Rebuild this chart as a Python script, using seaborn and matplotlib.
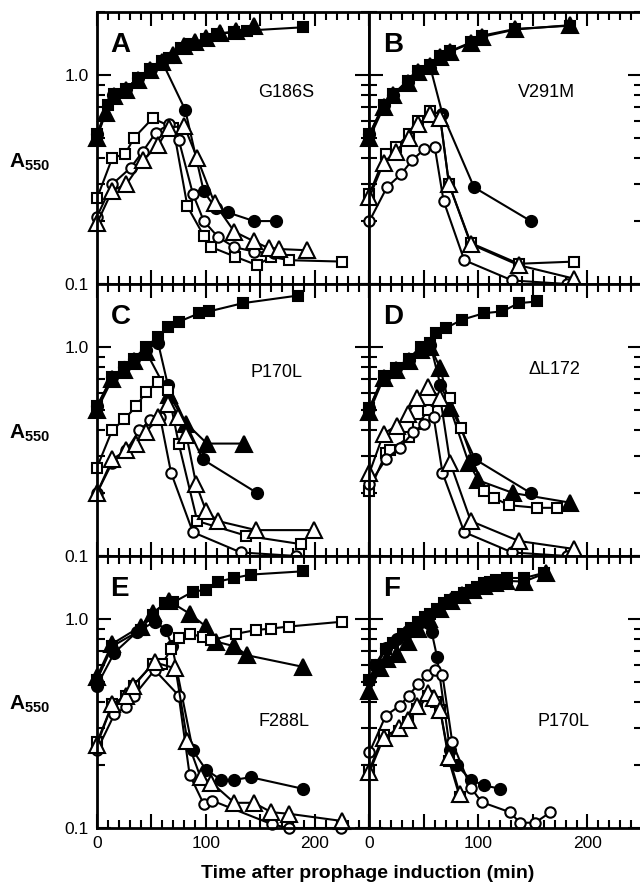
import matplotlib
matplotlib.use('Agg')
import matplotlib.pyplot as plt
import seaborn as sns
from matplotlib.ticker import MultipleLocator, FuncFormatter, LogLocator, NullFormatter, FixedLocator


# Datos: (tiempo en min, A550)
# Panel A - G186S
A_FSQ = [(0, 0.52), (10, 0.72), (16, 0.81), (27, 0.86), (38, 0.97), (49, 1.07), (60, 1.17), (66, 1.2),
         (77, 1.35), (86, 1.41), (100, 1.49), (110, 1.57), (126, 1.6), (138, 1.63), (189, 1.69)]
A_FTR = [(0, 0.50), (8, 0.66), (16, 0.79), (27, 0.85), (38, 0.95), (49, 1.06), (60, 1.15), (70, 1.25),
         (80, 1.37), (90, 1.43), (100, 1.51), (113, 1.58), (128, 1.62), (144, 1.72)]
A_FCI = [(0, 0.52), (15, 0.80), (27, 0.86), (38, 0.97), (50, 1.07), (60, 1.15), (81, 0.68), (98, 0.277),
         (109, 0.23), (120, 0.22), (144, 0.20), (164, 0.20)]
A_OSQ = [(0, 0.257), (14, 0.40), (26, 0.42), (34, 0.50), (51, 0.62), (70, 0.56), (83, 0.235), (98, 0.17),
         (105, 0.15), (127, 0.135), (147, 0.123), (160, 0.135), (176, 0.13), (225, 0.128)]
A_OCI = [(0, 0.21), (14, 0.30), (31, 0.36), (42, 0.43), (54, 0.53), (66, 0.58), (75, 0.49), (88, 0.27),
         (98, 0.20), (111, 0.168), (126, 0.15), (144, 0.143), (162, 0.14)]
A_OTR = [(0, 0.195), (14, 0.28), (27, 0.30), (42, 0.39), (56, 0.46), (66, 0.56), (80, 0.57), (92, 0.40),
         (108, 0.243), (126, 0.178), (144, 0.16), (158, 0.148), (167, 0.147), (193, 0.145)]

# Panel B - V291M
B_FSQ = [(0, 0.52), (13, 0.72), (22, 0.81), (35, 0.94), (45, 1.05), (56, 1.12), (65, 1.23), (74, 1.30),
         (93, 1.43), (103, 1.54), (134, 1.66), (184, 1.72)]
B_FTR = [(0, 0.50), (13, 0.70), (22, 0.80), (35, 0.92), (45, 1.03), (56, 1.10), (65, 1.22), (74, 1.29),
         (93, 1.42), (103, 1.52), (134, 1.65), (184, 1.73)]
B_FCI = [(0, 0.52), (13, 0.72), (22, 0.80), (35, 0.93), (45, 1.04), (56, 1.08), (67, 0.65), (96, 0.29),
         (148, 0.20)]
B_OSQ = [(0, 0.27), (15, 0.42), (24, 0.45), (36, 0.52), (45, 0.60), (56, 0.67), (65, 0.62), (73, 0.30),
         (93, 0.157), (137, 0.125), (188, 0.128)]
B_OCI = [(0, 0.20), (16, 0.29), (29, 0.335), (39, 0.39), (50, 0.44), (60, 0.45), (68, 0.25), (87, 0.13),
         (131, 0.104), (181, 0.10)]
B_OTR = [(0, 0.26), (13, 0.38), (24, 0.43), (36, 0.50), (45, 0.58), (56, 0.65), (65, 0.62), (73, 0.30),
         (93, 0.155), (137, 0.123), (188, 0.106)]

# Panel C - P170L
C_FSQ = [(0, 0.52), (14, 0.72), (25, 0.80), (34, 0.88), (45, 1.0), (56, 1.12), (65, 1.25), (75, 1.32),
         (94, 1.45), (103, 1.48), (134, 1.62), (184, 1.76)]
C_FTR = [(0, 0.50), (14, 0.70), (25, 0.78), (34, 0.86), (45, 0.95), (66, 0.59), (82, 0.43), (101, 0.345),
         (135, 0.345)]
C_FCI = [(0, 0.52), (14, 0.72), (25, 0.80), (34, 0.88), (45, 0.97), (56, 1.05), (65, 0.66), (97, 0.29),
         (147, 0.20)]
C_OSQ = [(0, 0.265), (14, 0.40), (25, 0.45), (36, 0.52), (45, 0.61), (56, 0.68), (65, 0.62), (75, 0.345),
         (92, 0.147), (137, 0.125), (187, 0.114)]
C_OCI = [(0, 0.20), (14, 0.28), (27, 0.32), (39, 0.40), (49, 0.445), (58, 0.46), (68, 0.25), (88, 0.13),
         (132, 0.104), (183, 0.10)]
C_OTR = [(0, 0.20), (14, 0.29), (27, 0.32), (36, 0.345), (45, 0.39), (56, 0.46), (65, 0.535), (74, 0.46),
         (82, 0.38), (91, 0.22), (100, 0.165), (111, 0.147), (146, 0.133), (199, 0.133)]

# Panel D - ΔL172
D_FSQ = [(0, 0.51), (13, 0.73), (24, 0.79), (36, 0.88), (47, 1.0), (56, 1.04), (61, 1.16), (70, 1.23),
         (85, 1.35), (105, 1.45), (122, 1.48), (137, 1.62), (154, 1.65)]
D_FTR = [(0, 0.49), (13, 0.71), (24, 0.78), (36, 0.86), (47, 0.97), (56, 1.0), (65, 0.79), (74, 0.51),
         (91, 0.28), (100, 0.23), (132, 0.20), (184, 0.18)]
D_FCI = [(0, 0.51), (13, 0.72), (24, 0.79), (36, 0.87), (47, 0.98), (56, 1.02), (65, 0.66), (97, 0.29),
         (148, 0.20)]
D_OSQ = [(0, 0.205), (15, 0.31), (19, 0.32), (36, 0.37), (45, 0.43), (54, 0.50), (74, 0.57), (84, 0.41),
         (105, 0.205), (114, 0.19), (128, 0.175), (154, 0.17), (172, 0.17)]
D_OCI = [(0, 0.22), (15, 0.29), (28, 0.33), (40, 0.39), (50, 0.43), (59, 0.46), (67, 0.25), (87, 0.13),
         (131, 0.104), (181, 0.10)]
D_OTR = [(0, 0.25), (13, 0.385), (25, 0.42), (35, 0.48), (44, 0.57), (54, 0.645), (65, 0.57), (74, 0.28),
         (93, 0.147), (137, 0.118), (188, 0.108)]

# Panel E - F288L
E_FSQ = [(0, 0.51), (14, 0.74), (40, 0.885), (51, 1.05), (62, 1.19), (70, 1.2), (88, 1.35), (100, 1.38),
         (111, 1.51), (126, 1.57), (141, 1.63), (189, 1.69)]
E_FTR = [(0, 0.53), (14, 0.76), (40, 0.92), (51, 1.07), (66, 1.22), (85, 1.06), (100, 0.92), (109, 0.78),
         (126, 0.74), (138, 0.67), (189, 0.59)]
E_FCI = [(0, 0.48), (16, 0.69), (37, 0.87), (53, 0.97), (63, 0.89), (69, 0.74), (88, 0.235), (100, 0.19),
         (114, 0.17), (126, 0.17), (141, 0.175), (189, 0.154)]
E_OSQ = [(0, 0.257), (14, 0.39), (27, 0.43), (34, 0.48), (51, 0.61), (60, 0.61), (68, 0.72), (75, 0.81),
         (85, 0.85), (97, 0.82), (105, 0.79), (128, 0.85), (146, 0.885), (160, 0.90), (176, 0.92), (225, 0.97)]
E_OCI = [(0, 0.235), (16, 0.35), (27, 0.38), (34, 0.43), (53, 0.57), (75, 0.43), (85, 0.18), (98, 0.13),
         (106, 0.135), (161, 0.104), (176, 0.10), (224, 0.10)]
E_OTR = [(0, 0.25), (14, 0.39), (27, 0.43), (33, 0.48), (53, 0.62), (72, 0.58), (83, 0.26), (95, 0.175),
         (105, 0.165), (126, 0.132), (144, 0.132), (160, 0.119), (176, 0.117), (225, 0.108)]

# Panel F - P170L
F_FSQ = [(0, 0.51), (7, 0.60), (15, 0.72), (22, 0.77), (31, 0.85), (38, 0.91), (45, 0.97), (51, 1.02),
         (56, 1.06), (62, 1.12), (68, 1.19), (74, 1.23), (80, 1.28), (87, 1.33), (93, 1.38), (99, 1.42),
         (105, 1.48), (111, 1.51), (116, 1.54), (126, 1.57), (142, 1.57), (160, 1.66)]
F_FTR = [(0, 0.45), (10, 0.58), (16, 0.64), (25, 0.68), (35, 0.78), (45, 0.90), (55, 1.0), (65, 1.12),
         (75, 1.22), (85, 1.30), (95, 1.37), (105, 1.44), (115, 1.49), (125, 1.52), (142, 1.51), (162, 1.66)]
F_FCI = [(0, 0.51), (5, 0.60), (15, 0.73), (25, 0.80), (35, 0.88), (45, 0.95), (57, 0.87), (62, 0.66),
         (74, 0.235), (80, 0.20), (93, 0.17), (105, 0.16), (120, 0.154)]
F_OSQ = [(0, 0.19), (13, 0.28), (27, 0.29), (35, 0.32), (44, 0.37), (54, 0.43), (61, 0.40), (65, 0.365),
         (73, 0.21), (83, 0.14)]
F_OCI = [(0, 0.23), (15, 0.345), (28, 0.385), (36, 0.43), (45, 0.49), (53, 0.54), (60, 0.57), (67, 0.54),
         (76, 0.257), (93, 0.156), (103, 0.133), (129, 0.119), (138, 0.106), (152, 0.106), (166, 0.119)]
F_OTR = [(0, 0.185), (13, 0.27), (27, 0.30), (35, 0.33), (44, 0.385), (54, 0.44), (59, 0.42), (65, 0.365),
         (73, 0.218), (83, 0.145)]

PANELES = ['A', 'B', 'C', 'D', 'E', 'F']
MUTANTES = ['G186S', 'V291M', 'P170L', '\u0394L172', 'F288L', 'P170L']
SERIES = {
    'A': [A_FSQ, A_FTR, A_FCI, A_OSQ, A_OCI, A_OTR],
    'B': [B_FSQ, B_FTR, B_FCI, B_OSQ, B_OCI, B_OTR],
    'C': [C_FSQ, C_FTR, C_FCI, C_OSQ, C_OCI, C_OTR],
    'D': [D_FSQ, D_FTR, D_FCI, D_OSQ, D_OCI, D_OTR],
    'E': [E_FSQ, E_FTR, E_FCI, E_OSQ, E_OCI, E_OTR],
    'F': [F_FSQ, F_FTR, F_FCI, F_OSQ, F_OCI, F_OTR],
}
# estilo de cada serie: marcador, relleno, tamaño
ESTILOS = [('s', 'black', 7.5), ('^', 'black', 11), ('o', 'black', 8),
           ('s', 'white', 7.5), ('o', 'white', 7.5), ('^', 'white', 11)]
POS_MUTANTE = [(0.59, 0.705), (0.544, 0.705), (0.5625, 0.676), (0.585, 0.684), (0.592, 0.392), (0.618, 0.392)]

sns.set_style('ticks')
plt.rcParams['font.family'] = ['Liberation Sans', 'DejaVu Sans']
plt.rcParams['mathtext.fontset'] = 'custom'
plt.rcParams['mathtext.bf'] = 'Liberation Sans:bold'
plt.rcParams['mathtext.rm'] = 'Liberation Sans'
for clave in ['text.color', 'axes.labelcolor', 'xtick.color', 'ytick.color', 'axes.edgecolor']:
    plt.rcParams[clave] = 'black'

fig, axes = plt.subplots(3, 2, figsize=(6.4, 8.89), dpi=100, sharex=True, sharey=True)
fig.subplots_adjust(left=0.1515, right=1.003, top=0.9865, bottom=0.0686, wspace=0, hspace=0)

for i, (ax, letra) in enumerate(zip(axes.flat, PANELES)):
    for datos, (marker, relleno, ms) in zip(SERIES[letra], ESTILOS):
        xs = [p[0] for p in datos]
        ys = [p[1] for p in datos]
        sns.lineplot(x=xs, y=ys, ax=ax, sort=False, estimator=None, color='black', lw=1.5,
                     marker=marker, mfc=relleno, mec='black', mew=1.5, ms=ms, clip_on=False, zorder=3)

    ax.set_yscale('log')
    ax.set_xlim(0, 250)
    ax.set_ylim(0.1, 2.0)

    ax.xaxis.set_major_locator(MultipleLocator(50))
    ax.xaxis.set_minor_locator(MultipleLocator(10))
    ax.xaxis.set_major_formatter(FuncFormatter(lambda v, p: f'{v:.0f}' if v in (0, 100, 200) else ''))
    ax.yaxis.set_major_locator(FixedLocator([0.1, 1.0]))
    ax.yaxis.set_major_formatter(FuncFormatter(lambda v, p: f'{v:.1f}'))
    ax.yaxis.set_minor_locator(LogLocator(base=10, subs=[2, 3, 4, 5, 6, 7, 8, 9]))
    ax.yaxis.set_minor_formatter(NullFormatter())

    ax.tick_params(which='both', direction='in', top=True, right=True, width=1.5, labelsize=12.5, pad=6,
                   color='black', labelcolor='black')
    ax.tick_params(which='major', length=10)
    ax.tick_params(which='minor', length=5.5)
    if i % 2 == 1:
        ax.tick_params(labelleft=False)
    if i < 4:
        ax.tick_params(labelbottom=False)
    for sp in ax.spines.values():
        sp.set_linewidth(2)
        sp.set_color('black')
        sp.set_zorder(4)

    ax.text(0.05, 0.88, letra, transform=ax.transAxes, fontsize=20, fontweight='bold', va='center', ha='left')
    mx, my = POS_MUTANTE[i]
    ax.text(mx, my, MUTANTES[i], transform=ax.transAxes, fontsize=13, va='center', ha='left')
    ax.set_xlabel('')
    ax.set_ylabel('')

for y in [162, 433, 704]:
    fig.text(30 / 640, 1 - y / 889, r'$\mathbf{A}_{\mathbf{550}}$', fontsize=15, ha='center', va='center')

fig.text(368 / 640, 1 - 874 / 889, 'Time after prophage induction (min)', fontsize=14, fontweight='bold',
         ha='center', va='center')

plt.savefig('out.png', dpi=100)
